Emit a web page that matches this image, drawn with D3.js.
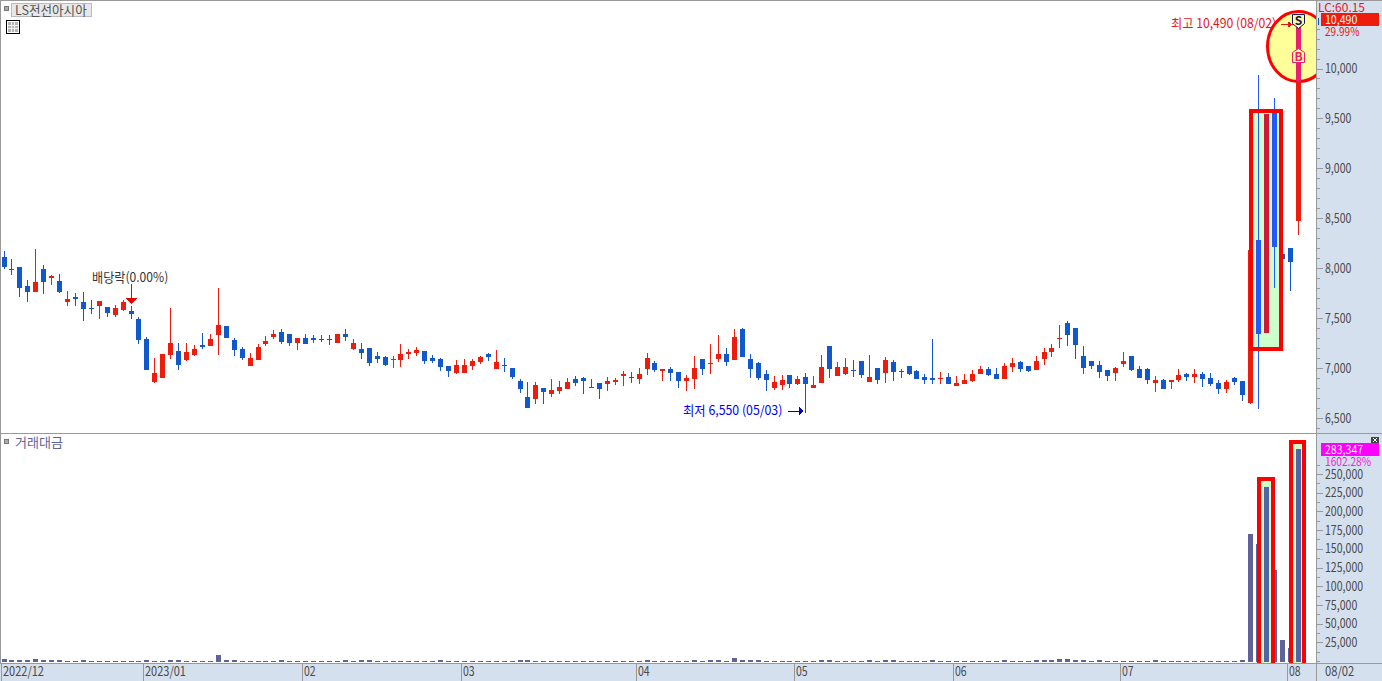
<!DOCTYPE html>
<html>
<head>
<meta charset="utf-8">
<style>
    html, body { margin: 0; padding: 0; background: #fff; overflow: hidden; }
    svg { display: block; }
    text { font-family: "Liberation Sans Narrow", "Noto Sans CJK KR", sans-serif; font-size: 13px; }
</style>
<script src="https://cdn.jsdelivr.net/npm/d3@7"></script>
</head>
<body>
<div id="chartContainer"></div>
<script>
// Daily candles, 2022/12 .. 2023/08/02 (won)
const opens = [
    8110,7990,8010,7820,7760,7990,7900,7870,7660,7710, 7660,7600,7620,7610,7530,7580,7570,7490,7290,6860,
    6900,7130,7170,7080,7130,7230,7220,7330,7420,7280, 7190,7020,7080,7240,7310,7360,7340,7250,7300,7300,
    7290,7290,7250,7340,7190,7190,7200,7120,7110,7080, 7080,7140,7150,7170,7100,7090,7020,6950,6950,7020,
    7060,7140,6990,7030,7000,6870,6710,6690,6800,6740, 6770,6790,6890,6900,6810,6850,6840,6860,6920,6910,
    6890,6990,7050,6970,6990,6960,6870,6890,7090,7040, 7090,7140,7080,7390,7090,7050,6940,6800,6830,6930,
    6840,6910,6800,6850,7220,6920,6940,6980,7070,6860, 7000,6950,7060,6970,7020,6970,6910,6900,6890,6910,
    6820,6840,6870,6940,6990,6940,6890,7010,7060,7020, 6980,7090,7160,7290,7450,7400,7120,7070,7030,6980,
    6950,7040,7120,6990,6990,6850,6880,6860,6880,6940, 6910,6940,6900,6850,6790,6900,6870,6650,8280,7350,
    9550,8140,8200,8470
];
const highs = [
    8170,8090,8010,7880,8190,8030,7930,7940,7770,7750, 7760,7680,7670,7610,7630,7680,7620,7510,7310,7100,
    7140,7600,7250,7250,7230,7350,7340,7800,7420,7300, 7210,7150,7240,7320,7380,7390,7340,7300,7340,7330,
    7330,7330,7340,7390,7290,7250,7200,7160,7120,7120, 7240,7190,7210,7170,7130,7100,7020,7080,7090,7090,
    7120,7150,7180,7100,7000,6890,6860,6860,6800,6890, 6870,6900,6920,6910,6890,6850,6910,6900,6970,6960,
    7000,7150,7070,6990,7010,6960,6930,7120,7090,7240, 7330,7200,7390,7400,7140,7060,6980,6920,6930,6930,
    6920,6950,6920,7130,7220,7060,7100,7080,7070,7130, 7000,7110,7080,6990,7020,6980,6940,7290,6960,6950,
    6920,6940,6980,7020,7010,7000,7050,7100,7070,7020, 7120,7200,7240,7430,7470,7400,7220,7070,7070,6980,
    7010,7160,7120,7020,7000,6920,6890,6880,6990,6950, 6990,6960,6950,6880,6880,6910,6870,8180,9930,9540,
    9700,8140,8200,10490
];
const lows = [
    7990,7930,7710,7660,7760,7740,7830,7750,7620,7620, 7470,7540,7490,7510,7510,7570,7490,7240,6980,6850,
    6900,7090,6980,7070,7120,7190,7220,7130,7300,7120, 7080,7020,7080,7220,7290,7240,7220,7180,7240,7250,
    7260,7230,7250,7270,7180,7090,7020,7050,7020,7000, 7010,7090,7120,7040,7050,6970,6910,6940,6950,6980,
    7040,7070,6990,6960,6890,6750,6600,6640,6640,6710, 6740,6790,6820,6740,6800,6690,6770,6830,6820,6850,
    6840,6930,6960,6870,6870,6800,6770,6790,6930,6940, 7060,7020,7080,7110,6900,6880,6770,6780,6780,6800,
    6830,6550,6800,6850,6900,6920,6930,6910,6900,6860, 6840,6850,6870,6900,6930,6890,6840,6840,6840,6840,
    6820,6840,6860,6940,6920,6890,6890,6960,6960,6960, 6980,7030,7110,7200,7220,7090,6940,6990,6900,6870,
    6870,7010,6970,6900,6840,6760,6790,6790,6860,6870, 6850,6810,6820,6740,6750,6830,6670,6640,6590,7350,
    7800,8090,7770,8330
];
const closes = [
    8010,7980,7800,7760,7860,7860,7920,7760,7690,7690, 7590,7590,7670,7550,7600,7660,7540,7280,6980,6950,
    7140,7250,7030,7160,7190,7210,7290,7430,7300,7180, 7100,7100,7210,7270,7340,7260,7250,7300,7240,7280,
    7280,7280,7340,7310,7250,7150,7050,7090,7030,7090, 7140,7160,7180,7070,7070,7010,6970,7030,7030,7070,
    7110,7110,7060,7020,6910,6790,6600,6830,6760,6780, 6810,6860,6850,6870,6800,6790,6870,6880,6940,6900,
    6940,7100,6980,6990,6950,6870,6900,7000,6990,7050, 7140,7060,7310,7110,6990,6900,6880,6860,6880,6840,
    6890,6840,6830,7010,6990,7010,7010,6970,6930,6910, 6880,7080,6960,6960,6940,6890,6880,6880,6900,6840,
    6850,6880,6940,6990,6930,6890,7020,7050,6990,6970, 7070,7160,7200,7300,7330,7230,7000,7020,6960,6920,
    7000,7070,6980,6900,6880,6880,6790,6880,6930,6910, 6940,6890,6840,6790,6860,6860,6730,8180,7340,9540,
    8210,8090,8060,10490
];
// Trading value, same order
const tradeValues = [
    2700,1300,1300,1300,2700,1300,1300,1300,500,500, 1300,500,500,500,500,500,500,500,1300,500,
    500,1300,1300,500,500,500,500,8000,1300,1300, 500,500,500,500,500,1300,500,500,500,500,
    500,500,500,1300,500,1300,1300,500,500,500, 500,500,500,500,500,1300,500,500,500,500,
    500,500,500,500,500,1300,1300,500,500,500, 500,500,500,500,500,500,500,500,500,500,
    500,1300,500,500,500,500,500,1300,500,1300, 1300,500,4000,1300,1300,1300,500,500,500,500,
    500,500,500,1300,1300,500,500,500,500,1300, 500,1300,1300,500,500,500,500,1300,500,500,
    500,500,500,500,500,500,1300,500,500,500, 1300,1300,1300,2700,2700,1300,1300,500,1300,500,
    500,500,500,500,500,1300,500,500,500,500, 500,500,500,500,500,500,1300,169800,156400,232600,
    121700,28100,17400,283347
];

const monthIndex = [0, 18, 38, 58, 80, 100, 120, 141, 162];
const monthLabels = ["2022/12", "2023/01", "02", "03", "04", "05", "06", "07", "08"];
const priceTicks = [6500, 7000, 7500, 8000, 8500, 9000, 9500, 10000];
const priceMinor = d3.range(6400, 10500, 100);
const valueTicks = [25000, 50000, 75000, 100000, 125000, 150000, 175000, 200000, 225000, 250000];
const valueMinor = d3.range(0, 275000, 12500);
const brightCandles = [158, 160];   // inside the green box
const brightBars = [159, 163];
const barBoxes = [[159, 14, 243300], [163, 13, 292800]];   // index, width, top value

// The target font is a narrow bitmap face, so each label gets its width forced.
function labelWidth(s) {
    let w = 0;
    for (const c of s) {
        if (/[,.:]/.test(c)) w += 3;
        else if (c === " ") w += 4;
        else if (c === "%") w += 8;
        else if (c.charCodeAt(0) > 255) w += 12;
        else w += 5.85;
    }
    return w;
}

function fit(sel) {
    sel.each(function () {
        const s = this.textContent;
        if (s) d3.select(this).attr("textLength", labelWidth(s)).attr("lengthAdjust", "spacingAndGlyphs");
    });
}

function createChart() {
    const width = 1382;
    const height = 681;
    const axisX = 1316;

    const svg = d3.create("svg")
        .attr("width", width)
        .attr("height", height)
        .attr("shape-rendering", "crispEdges");

    const x = d3.scaleBand().domain(d3.range(opens.length)).range([2, 2 + 7.939 * opens.length]);
    const left = i => Math.floor(x(i));
    const y = d3.scaleLinear().domain([6500, 10000]).range([418, 68.5]);
    const vy = d3.scaleLinear().domain([0, 250000]).range([661, 474]);
    const fmt = d3.format(",");

    // Background panels
    svg.append("rect").attr("width", width).attr("height", height).attr("fill", "#fff");
    svg.append("rect").attr("x", axisX).attr("width", width - axisX).attr("height", height).attr("fill", "#d5e0ee");
    svg.append("rect").attr("y", 664).attr("width", width).attr("height", height - 664).attr("fill", "#d5e0ee");

    const defs = svg.append("defs");
    defs.append("clipPath").attr("id", "plotClip").append("rect")
        .attr("width", axisX).attr("height", 433);
    defs.append("clipPath").attr("id", "volClip").append("rect")
        .attr("y", 434).attr("width", axisX).attr("height", 229);
    const ellipseAttrs = { cx: left(163) + 2.5, cy: y(10220), rx: 31, ry: 35 };
    defs.append("clipPath").attr("id", "ellipseClip").append("ellipse")
        .attr("cx", ellipseAttrs.cx).attr("cy", ellipseAttrs.cy).attr("rx", ellipseAttrs.rx).attr("ry", ellipseAttrs.ry);

    const plot = svg.append("g").attr("clip-path", "url(#plotClip)");

    // Text under the ellipse
    plot.append("text").attr("x", 1171).attr("y", 23).attr("dy", "0.35em").attr("fill", "#e8141c")
        .text("최고 10,490 (08/02)").call(fit);

    // Highlight behind the candles
    plot.append("ellipse")
        .attr("cx", ellipseAttrs.cx).attr("cy", ellipseAttrs.cy).attr("rx", ellipseAttrs.rx).attr("ry", ellipseAttrs.ry)
        .attr("fill", "#ffff99").attr("stroke", "#ff0000").attr("stroke-width", 3)
        .attr("shape-rendering", "auto");
    const boxX = left(158) - 5;
    const boxW = left(160) + 9 - boxX;
    plot.append("rect")
        .attr("x", boxX).attr("y", y(9570)).attr("width", boxW).attr("height", y(7190) - y(9570))
        .attr("fill", "#ccffcc");

    // Candles
    const candleColor = i => {
        if (i === 159) return "#cf1838";
        if (brightCandles.includes(i)) return "#2458f8";
        return closes[i] >= opens[i] ? "#ee1c0c" : "#1058cc";
    };
    const candles = plot.append("g").selectAll("g")
        .data(d3.range(opens.length))
        .join("g");
    candles.append("rect")
        .attr("x", i => left(i) + 2)
        .attr("y", i => Math.round(y(highs[i])))
        .attr("width", 1)
        .attr("height", i => Math.max(1, Math.round(y(lows[i])) - Math.round(y(highs[i]))))
        .attr("fill", candleColor);
    candles.append("rect")
        .attr("x", i => left(i))
        .attr("y", i => Math.round(y(Math.max(opens[i], closes[i]))))
        .attr("width", 5)
        .attr("height", i => Math.max(1, Math.round(y(Math.min(opens[i], closes[i]))) - Math.round(y(Math.max(opens[i], closes[i])))))
        .attr("fill", candleColor);

    // Last candle turns pink inside the ellipse
    plot.append("g").attr("clip-path", "url(#ellipseClip)").append("rect")
        .attr("x", left(163)).attr("y", y(10490)).attr("width", 5).attr("height", y(8470) - y(10490))
        .attr("fill", "#e81e6e");

    // Red outline over the candles
    plot.append("rect")
        .attr("x", boxX).attr("y", y(9570)).attr("width", boxW).attr("height", y(7190) - y(9570))
        .attr("fill", "none").attr("stroke", "#ff0000").attr("stroke-width", 4);

    // Arrows and notes
    const hy = y(10440);
    plot.append("path").attr("d", `M1281,${hy}H1290`).attr("stroke", "#e8141c");
    plot.append("path").attr("d", `M1288,${hy - 3}L1293,${hy}L1288,${hy + 3}Z`).attr("fill", "#e8141c");

    // S / B markers
    const sx = left(163) + 2.5;
    plot.append("path")
        .attr("d", `M${sx - 6},${y(10490) - 5}H${sx + 6}V${y(10490) + 4}L${sx},${y(10490) + 9}L${sx - 6},${y(10490) + 4}Z`)
        .attr("fill", "#ffff99").attr("stroke", "#101060").attr("shape-rendering", "auto");
    plot.append("text").attr("x", sx).attr("y", y(10490) + 1).attr("dy", "0.35em")
        .attr("text-anchor", "middle").attr("fill", "#101060").style("font-weight", "bold").style("font-size", "12px").text("S");
    const by = y(10130);
    plot.append("path")
        .attr("d", `M${sx},${by - 7}L${sx + 6},${by - 3}V${by + 7}H${sx - 6}V${by - 3}Z`)
        .attr("fill", "#ffff99").attr("stroke", "#e81e6e").attr("shape-rendering", "auto");
    plot.append("text").attr("x", sx).attr("y", by + 1).attr("dy", "0.35em")
        .attr("text-anchor", "middle").attr("fill", "#e81e6e").style("font-weight", "bold").style("font-size", "12px").text("B");

    plot.append("text").attr("x", 92).attr("y", 277).attr("dy", "0.35em").attr("fill", "#333").text("배당락(0.00%)").call(fit);
    plot.append("rect").attr("x", 131).attr("y", 284).attr("width", 1).attr("height", 15).attr("fill", "#ee0000");
    plot.append("path").attr("d", "M126,298H137L131.5,304Z").attr("fill", "#ee0000");

    plot.append("text").attr("x", 683).attr("y", 410).attr("dy", "0.35em").attr("fill", "#0000ff").text("최저 6,550 (05/03)").call(fit);
    plot.append("path").attr("d", `M788,${y(6570)}H799`).attr("stroke", "#0000cc");
    plot.append("path").attr("d", `M799,${y(6570) - 4}L804,${y(6570)}L799,${y(6570) + 4}Z`).attr("fill", "#0000cc");

    // Trading value panel
    const vol = svg.append("g").attr("clip-path", "url(#volClip)");
    vol.append("g").selectAll("rect")
        .data(barBoxes)
        .join("rect")
        .attr("x", d => left(d[0]) - 5)
        .attr("y", d => vy(d[2]))
        .attr("width", d => d[1])
        .attr("height", d => vy(0) + 6 - vy(d[2]))
        .attr("fill", "#ccffcc");
    vol.append("g").selectAll("rect")
        .data(tradeValues)
        .join("rect")
        .attr("x", (d, i) => left(i))
        .attr("y", d => Math.round(vy(d)))
        .attr("width", 5)
        .attr("height", d => Math.round(vy(0)) + 1 - Math.round(vy(d)))
        .attr("fill", (d, i) => brightBars.includes(i) ? "#4f65a8" : "#5f6399");
    vol.append("g").selectAll("rect")
        .data(barBoxes)
        .join("rect")
        .attr("x", d => left(d[0]) - 5)
        .attr("y", d => vy(d[2]))
        .attr("width", d => d[1])
        .attr("height", d => vy(0) + 6 - vy(d[2]))
        .attr("fill", "none").attr("stroke", "#ff0000").attr("stroke-width", 4);

    // Frame lines
    const frame = "#999";
    svg.append("rect").attr("width", width).attr("height", 1).attr("fill", frame);
    svg.append("rect").attr("width", 1).attr("height", 663).attr("fill", frame);
    svg.append("rect").attr("y", 433).attr("width", width).attr("height", 1).attr("fill", frame);
    svg.append("rect").attr("y", 663).attr("width", width).attr("height", 1).attr("fill", frame);
    svg.append("rect").attr("x", axisX).attr("width", 1).attr("height", height).attr("fill", frame);

    // Right axes
    const styleAxis = g => {
        g.select(".domain").remove();
        g.selectAll("line").attr("stroke", frame);
        g.selectAll("text").attr("fill", "#4a4a4a").style("font-size", "13px").call(fit);
    };
    svg.append("g").attr("transform", `translate(${axisX + 1},0)`)
        .call(d3.axisRight(y).tickValues(priceMinor).tickSize(3).tickFormat(""))
        .call(styleAxis);
    svg.append("g").attr("transform", `translate(${axisX + 1},0)`)
        .call(d3.axisRight(y).tickValues(priceTicks).tickSize(6).tickPadding(2).tickFormat(fmt))
        .call(styleAxis);
    svg.append("g").attr("transform", `translate(${axisX + 1},0)`)
        .call(d3.axisRight(vy).tickValues(valueMinor).tickSize(3).tickFormat(""))
        .call(styleAxis);
    svg.append("g").attr("transform", `translate(${axisX + 1},0)`)
        .call(d3.axisRight(vy).tickValues(valueTicks).tickSize(6).tickPadding(2).tickFormat(fmt))
        .call(styleAxis);

    // Current value tags
    svg.append("rect").attr("x", 1318).attr("y", 18).attr("width", 1).attr("height", 7).attr("fill", "#1058cc");
    svg.append("text").attr("x", 1318).attr("y", 7.5).attr("dy", "0.35em").attr("fill", "#e8141c").style("font-size", "12px")
        .attr("textLength", 47).attr("lengthAdjust", "spacingAndGlyphs").text("LC:60.15");
    svg.append("rect").attr("x", 1321).attr("y", 13).attr("width", 58).attr("height", 13).attr("fill", "#ee1c0c");
    svg.append("text").attr("x", 1325).attr("y", 19.5).attr("dy", "0.35em").attr("fill", "#fff").style("font-size", "12px").text(fmt(closes[163])).call(fit);
    svg.append("text").attr("x", 1325).attr("y", 32).attr("dy", "0.35em").attr("fill", "#e8141c").style("font-size", "12px").text("29.99%").call(fit);
    svg.append("rect").attr("x", 1321).attr("y", 443).attr("width", 58).attr("height", 13).attr("fill", "#ff00ff");
    svg.append("text").attr("x", 1325).attr("y", 449.5).attr("dy", "0.35em").attr("fill", "#fff").style("font-size", "12px").text(fmt(tradeValues[163])).call(fit);
    svg.append("text").attr("x", 1325).attr("y", 461.5).attr("dy", "0.35em").attr("fill", "#ee22dd").style("font-size", "12px").text("1602.28%").call(fit);
    svg.append("rect").attr("x", 1371).attr("y", 437).attr("width", 8).attr("height", 6).attr("fill", "#444");
    svg.append("path").attr("d", "M1373,438L1377,442M1377,438L1373,442").attr("stroke", "#fff");

    // Month axis
    const months = svg.append("g").selectAll("g").data(monthIndex).join("g");
    months.append("rect")
        .attr("x", d => left(d) - 1).attr("y", 664).attr("width", 1).attr("height", 17).attr("fill", frame);
    months.append("text")
        .attr("x", d => left(d) + 1).attr("y", 671.5).attr("dy", "0.35em").attr("fill", "#4a4a4a")
        .text((d, i) => monthLabels[i]).call(fit);
    svg.append("text").attr("x", 1325).attr("y", 671.5).attr("dy", "0.35em").attr("fill", "#4a4a4a").text("08/02").call(fit);

    // Panel titles
    const bullet = yy => svg.append("rect").attr("x", 4.5).attr("y", yy).attr("width", 4).attr("height", 4)
        .attr("fill", "#aaa").attr("stroke", "#777");
    bullet(6.5);
    bullet(439.5);
    svg.append("rect").attr("x", 11.5).attr("y", 3.5).attr("width", 80).attr("height", 13)
        .attr("fill", "#e8e8e8").attr("stroke", "#bbb");
    svg.append("text").attr("x", 15).attr("y", 10).attr("dy", "0.35em").attr("fill", "#555").text("LS전선아시아").call(fit);
    svg.append("text").attr("x", 15).attr("y", 442).attr("dy", "0.35em").attr("fill", "#5f6399").text("거래대금").call(fit);

    // Table button
    svg.append("rect").attr("x", 6.5).attr("y", 20.5).attr("width", 13).attr("height", 13).attr("fill", "#fff").attr("stroke", "#000");
    svg.append("rect").attr("x", 8).attr("y", 22).attr("width", 10).attr("height", 10).attr("fill", "#b5b5b5");
    svg.append("path").attr("d", "M11.5,22V32M14.5,22V32M8,25.5H18M8,28.5H18").attr("stroke", "#eee");

    return svg.node();
}

document.getElementById("chartContainer").appendChild(createChart());
</script>
</body>
</html>
